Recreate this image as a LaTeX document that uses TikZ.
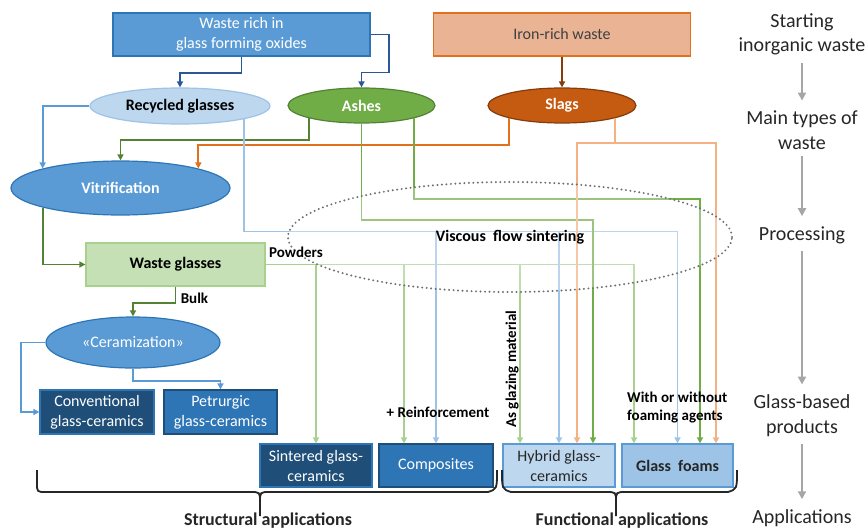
\documentclass[tikz,border=0pt]{standalone}
\usepackage{fontspec}
\setmainfont{Carlito}
\usepackage{tikz}
\usetikzlibrary{shapes.geometric, arrows.meta, calc, positioning}

\definecolor{midblue}{HTML}{5B9BD5}
\definecolor{darkblue}{HTML}{1F4E79}
\definecolor{navyline}{HTML}{2B5797}
\definecolor{steelblue}{HTML}{2E75B6}
\definecolor{paleblue}{HTML}{BDD7EE}
\definecolor{lightblue}{HTML}{9DC3E6}
\definecolor{ashgreen}{HTML}{70AD47}
\definecolor{darkgreen}{HTML}{548235}
\definecolor{palegreen}{HTML}{C5E0B4}
\definecolor{lightgreen}{HTML}{A9D18E}
\definecolor{slagfill}{HTML}{C55A11}
\definecolor{slagline}{HTML}{E2711D}
\definecolor{peach}{HTML}{F4B183}
\definecolor{ironfill}{HTML}{E9B394}
\definecolor{rust}{HTML}{843C0C}
\definecolor{arrowgray}{HTML}{A6A6A6}
\definecolor{dotgray}{HTML}{707070}

\newcommand{\boxfont}{\fontsize{16}{20}\selectfont}

\tikzstyle{srcbox} = [rectangle, minimum width=257pt, minimum height=43pt, align=center, line width=1.2pt]
\tikzstyle{waste} = [ellipse, minimum width=147pt, minimum height=35pt, inner sep=0pt, line width=1.2pt, font=\boxfont\bfseries]
\tikzstyle{process} = [ellipse, inner sep=0pt, line width=1.2pt, text=white]
\tikzstyle{prodbox} = [rectangle, minimum width=112pt, minimum height=43pt, inner sep=1pt, align=center, line width=1.2pt]
\tikzstyle{note} = [font=\fontsize{15}{18}\selectfont\bfseries, inner sep=1pt]
\tikzstyle{stage} = [font=\fontsize{20}{24.5}\selectfont, align=center, inner sep=2pt, text=black!85]
\tikzstyle{flow} = [line width=1.9pt, -{Triangle[length=6pt,width=6pt]}]
\tikzstyle{stagearrow} = [arrowgray, line width=2.2pt, -{Triangle[length=8pt,width=8pt]}, shorten <=5pt, shorten >=8pt]
\tikzstyle{brace} = [line width=1.8pt, black!85]

\begin{document}
\begin{tikzpicture}[x=1pt, y=-1pt, font=\boxfont]
\useasboundingbox (0,0) rectangle (866,530);

% starting waste
\node[srcbox, fill=midblue, draw=steelblue, text=white] (oxides) at (241.5,34.5) {Waste rich in\\glass forming oxides};
\node[srcbox, fill=ironfill, draw=slagline, text=black!75] (iron) at (562,34.5) {Iron-rich waste};

% main types of waste
\node[waste, minimum width=180pt, minimum height=36pt, fill=paleblue, draw=lightblue] (recycled) at (180,106) {Recycled glasses};
\node[waste, fill=ashgreen, draw=darkgreen, text=white] (ashes) at (361.5,105.5) {Ashes};
\node[waste, minimum width=148pt, fill=slagfill, draw=rust, text=white] (slags) at (562,105.5) {Slags};

% processing
\node[process, minimum width=219pt, minimum height=54pt, fill=midblue, draw=steelblue, font=\boxfont\bfseries] (vitri) at (120.5,188) {Vitrification};
\node[rectangle, minimum width=179pt, minimum height=43pt, fill=palegreen, draw=lightgreen, line width=1.2pt, font=\boxfont\bfseries] (wglass) at (175.5,264.5) {Waste glasses};
\node[process, minimum width=174pt, minimum height=51pt, fill=midblue, draw=steelblue] (ceram) at (133,342.5) {«Ceramization»};

% glass-based products
\node[prodbox, minimum width=114pt, minimum height=44pt, fill=darkblue, draw=steelblue, text=white] (conv) at (97,412) {Conventional\\glass-ceramics};
\node[prodbox, minimum width=113pt, minimum height=44pt, fill=steelblue, draw=darkblue, text=white] (petr) at (220.5,412) {Petrurgic\\glass-ceramics};
\node[prodbox, fill=darkblue, draw=steelblue, text=white] (sintered) at (316,465.5) {Sintered glass-\\ceramics};
\node[prodbox, minimum width=114pt, fill=steelblue, draw=darkblue, text=white] (composites) at (436,465.5) {Composites};
\node[prodbox, fill=paleblue, draw=midblue, text=black!85] (hybrid) at (559,465.5) {Hybrid glass-\\ceramics};
\node[prodbox, minimum width=111pt, fill=lightblue, draw=midblue, text=black!85, font=\boxfont\bfseries] (foams) at (677.5,465.5) {Glass~~foams};

% connectors
\draw[flow, navyline] (oxides.south) -- ++(0,16) -| (recycled.north);
\draw[flow, navyline] (oxides.east) -| ++(18,38) -| (ashes.north);
\draw[flow, rust] (iron.south) -- (slags.north);

\draw[flow, midblue] (recycled.west) -| (vitri.north west);
\draw[flow, darkgreen] (ashes.south west) -- ++(0,22) -| (vitri.north);
\draw[flow, slagline] (slags.south west) -- ++(0,27) -| (vitri.north east);
\draw[flow, darkgreen] (vitri.south west) |- (wglass.west);
\draw[flow, darkgreen] (wglass.south) -- ++(0,16) -| (ceram.north);
\draw[flow, midblue] (ceram.west) -- ++(-24,0) |- (conv.west);
\draw[flow, midblue] (ceram.south) -- ++(0,12.5) -| (petr.north);

\foreach \tgt/\dx in {sintered/0, composites/-32, hybrid/-39, foams/-43.5}
  \draw[flow, lightgreen] (wglass.east) -| ($(\tgt.north)+(\dx,0)$);
\foreach \tgt in {composites, hybrid, foams}
  \draw[flow, lightblue] (recycled.south east) -- ++(0,112.3) -| (\tgt.north);
\draw[flow, ashgreen] (ashes.south) -- ++(0,96) -| ($(hybrid.north)+(34,0)$);
\draw[flow, ashgreen] (ashes.south east) -- ++(0,81) -| ($(foams.north)+(22.5,0)$);
\draw[flow, peach] (slags.south east) -- ++(0,25) -| ($(hybrid.north)+(18,0)$);
\draw[flow, peach] (slags.south east) -- ++(0,25) -| ($(foams.north)+(38.5,0)$);

% sintering region
\node[ellipse, minimum width=444pt, minimum height=110pt, draw=dotgray, line width=2.2pt, dash pattern=on 0pt off 4.5pt, line cap=round, fill=white, fill opacity=0.3, text opacity=1, font=\boxfont\bfseries] (sintering) at (510,237) {Viscous~~flow sintering};

% labels on the connectors
\node[note] (powders) at (296,252) {Powders};
\node[note] (bulk) at (194.5,298) {Bulk};
\node[note] (reinf) at (438,412) {+ Reinforcement};
\node[note, rotate=90] (glazing) at (512,369) {As glazing material};
\node[note, align=left, anchor=west] (foaming) at (626,408) {With or without\\foaming agents};

% braces
\draw[brace] (37,470) -- (37,483) .. controls (37,492) .. (46,492) -- (250,492) .. controls (260,492) .. (260,502) -- (260,516);
\draw[brace] (497,470) .. controls (497,489) .. (488,492) -- (270,492) .. controls (260,492) .. (260,502);
\draw[brace] (502,470) .. controls (502,489) .. (511,492) -- (606,492) .. controls (616,492) .. (616,502) -- (616,516);
\draw[brace] (737,470) .. controls (737,489) .. (728,492) -- (626,492) .. controls (616,492) .. (616,502);
\node[font=\fontsize{18}{20}\selectfont\bfseries, text=black!85] (structural) at (268,521) {Structural applications};
\node[font=\fontsize{18}{20}\selectfont\bfseries, text=black!85] (functional) at (622,521) {Functional applications};

% stages
\node[stage] (start) at (802,34.5) {Starting\\inorganic waste};
\node[stage] (types) at (802,130) {Main types of\\waste};
\node[stage] (proc) at (802,235) {Processing};
\node[stage] (prods) at (802,415.5) {Glass-based\\products};
\node[stage] (apps) at (802,518) {Applications};
\draw[stagearrow] (start) -- (types);
\draw[stagearrow] (types) -- (proc);
\draw[stagearrow] (proc) -- (prods);
\draw[stagearrow] (prods) -- (apps);
\end{tikzpicture}
\end{document}
